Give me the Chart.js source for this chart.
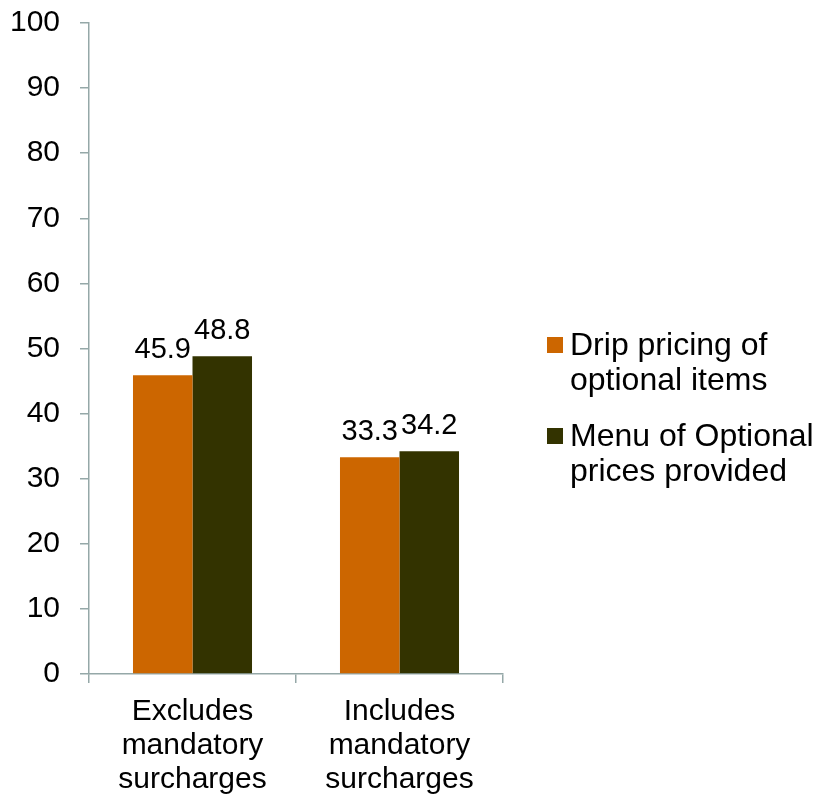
<!DOCTYPE html>
<html lang="en">
<head>
    <meta charset="UTF-8">
    <title>Drip pricing vs menu of optional prices</title>
    <script src="https://cdn.jsdelivr.net/npm/chart.js"></script>
    <style>
        body {
            margin: 0;
            background: #ffffff;
            font-family: "Liberation Sans", Arial, sans-serif;
        }
        .wrap {
            position: relative;
            width: 815px;
            height: 804px;
        }
        #leyenda {
            position: absolute;
            left: 547px;
            top: 327px;
            font-size: 32px;
            line-height: 35px;
            color: #000;
            white-space: nowrap;
        }
        .item {
            position: relative;
            padding-left: 23px;
            margin-bottom: 21px;
        }
        .item span.box {
            position: absolute;
            left: 0;
            top: 10px;
            width: 16px;
            height: 16px;
        }
    </style>
</head>
<body>
    <div class="wrap">
        <canvas id="grafica" width="815" height="804"></canvas>
        <div id="leyenda"></div>
    </div>

    <script>
        // Datos
        const categorias = [
            ['Excludes', 'mandatory', 'surcharges'],
            ['Includes', 'mandatory', 'surcharges']
        ];
        const serieNombres = [
            ['Drip pricing of', 'optional items'],
            ['Menu of Optional', 'prices provided']
        ];
        const dripPricing = [45.9, 33.3];
        const menuOpcional = [48.8, 34.2];
        const colores = ['#cc6600', '#333300'];
        const ejeColor = '#95a8a8';

        // Etiquetas de valor encima de cada barra
        const etiquetasValor = {
            id: 'etiquetasValor',
            afterDatasetsDraw(chart) {
                const c = chart.ctx;
                c.save();
                c.font = '29px "Liberation Sans", Arial, sans-serif';
                c.fillStyle = '#000';
                c.textAlign = 'center';
                c.textBaseline = 'alphabetic';
                chart.data.datasets.forEach((ds, i) => {
                    chart.getDatasetMeta(i).data.forEach((bar, j) => {
                        c.fillText(ds.data[j].toFixed(1), bar.x, bar.y - 17);
                    });
                });
                c.restore();
            }
        };

        const ctx = document.getElementById('grafica').getContext('2d');
        const grafica = new Chart(ctx, {
            type: 'bar',
            data: {
                labels: categorias,
                datasets: [
                    { label: serieNombres[0].join(' '), data: dripPricing, backgroundColor: colores[0] },
                    { label: serieNombres[1].join(' '), data: menuOpcional, backgroundColor: colores[1] }
                ]
            },
            options: {
                responsive: false,
                animation: false,
                layout: { padding: { top: 23, right: 312, left: 0, bottom: 0 } },
                datasets: {
                    bar: { barPercentage: 1, categoryPercentage: 0.575 }
                },
                plugins: {
                    legend: { display: false },
                    tooltip: { enabled: false }
                },
                scales: {
                    x: {
                        grid: {
                            offset: true,
                            drawOnChartArea: false,
                            drawTicks: true,
                            tickLength: 9,
                            color: ejeColor,
                            lineWidth: 1.5
                        },
                        border: { color: ejeColor, width: 1.5 },
                        ticks: {
                            color: '#000',
                            padding: 12,
                            font: { family: '"Liberation Sans", Arial, sans-serif', size: 30, lineHeight: 34 / 30 }
                        },
                        afterFit(scale) { scale.height = 130; }
                    },
                    y: {
                        min: 0,
                        max: 100,
                        ticks: {
                            stepSize: 10,
                            color: '#000',
                            padding: 20,
                            font: { family: '"Liberation Sans", Arial, sans-serif', size: 30 }
                        },
                        grid: {
                            drawOnChartArea: false,
                            drawTicks: true,
                            tickLength: 9,
                            color: ejeColor,
                            lineWidth: 1.5
                        },
                        border: { color: ejeColor, width: 1.5 },
                        afterFit(scale) {
                            scale.width = 89;
                            // el margen superior lo fija layout.padding
                            scale.paddingTop = 0;
                            scale.paddingBottom = 0;
                        }
                    }
                }
            },
            plugins: [etiquetasValor]
        });

        // Leyenda con texto en dos líneas
        const leyenda = document.getElementById('leyenda');
        serieNombres.forEach((lineas, i) => {
            const item = document.createElement('div');
            item.className = 'item';
            const caja = document.createElement('span');
            caja.className = 'box';
            caja.style.background = colores[i];
            item.appendChild(caja);
            item.insertAdjacentHTML('beforeend', lineas.join('<br>'));
            leyenda.appendChild(item);
        });
    </script>
</body>
</html>
